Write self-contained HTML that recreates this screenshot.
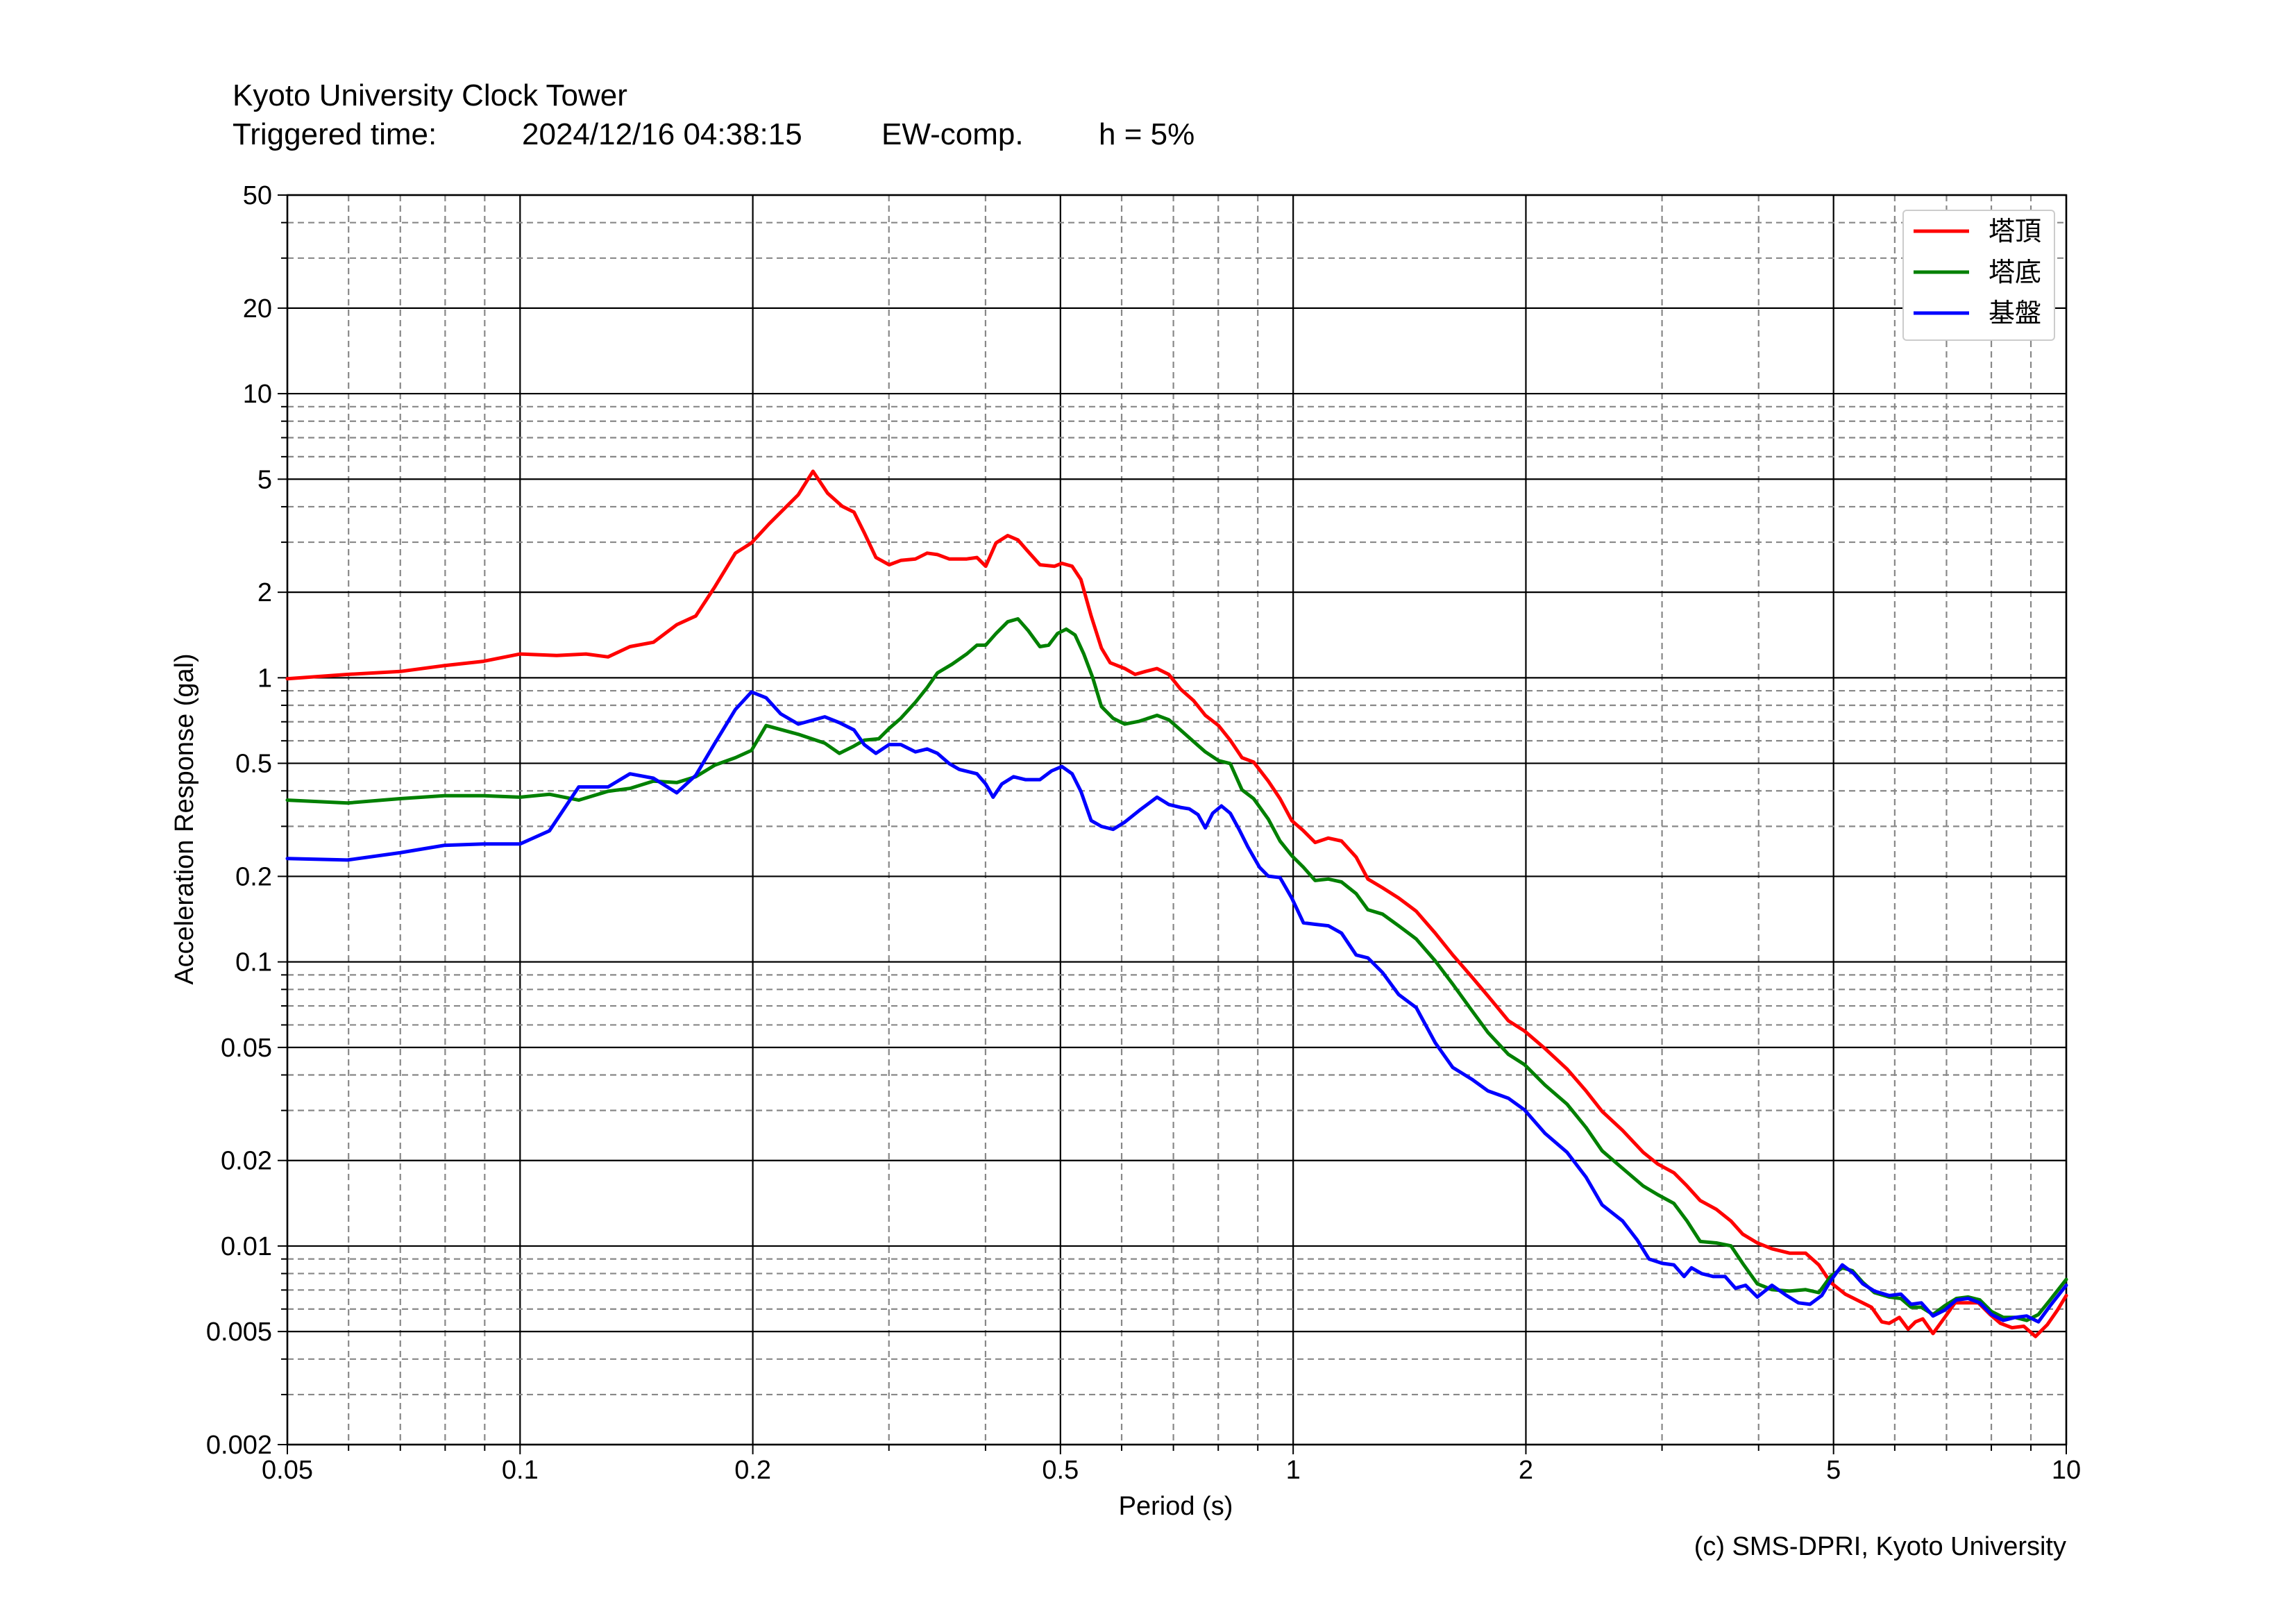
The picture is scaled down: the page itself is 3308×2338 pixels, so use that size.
<!DOCTYPE html>
<html><head><meta charset="utf-8"><style>
html,body{margin:0;padding:0;background:#fff}
svg{display:block}
text{font-family:"Liberation Sans","Noto Sans CJK JP",sans-serif;fill:#000}
</style></head><body>
<svg id="s" xmlns="http://www.w3.org/2000/svg" width="3308" height="2338" viewBox="0 0 3308 2338">
<rect width="3308" height="2338" fill="#fff"/>
<text x="335" y="152" font-size="44">Kyoto University Clock Tower</text>
<text x="335" y="208" font-size="44">Triggered time:</text>
<text x="752" y="208" font-size="44">2024/12/16 04:38:15</text>
<text x="1270" y="208" font-size="44">EW-comp.</text>
<text x="1583" y="208" font-size="44">h = 5%</text>
<g id="grid"></g>
<g id="labels" font-size="36"></g>
<text x="1694" y="2182" font-size="38" text-anchor="middle">Period (s)</text>
<text transform="translate(278,1180) rotate(-90)" font-size="38" text-anchor="middle">Acceleration Response (gal)</text>
<text x="2977" y="2240" font-size="38" text-anchor="end">(c) SMS-DPRI, Kyoto University</text>
<g id="series"></g>
<g id="legend" transform="translate(-13,0)">
<rect x="2755" y="303" width="218" height="187" fill="#fff" stroke="#ccc" stroke-width="2" rx="5"/>
<line x1="2770" y1="333" x2="2850" y2="333" stroke="#f00" stroke-width="5"/>
<line x1="2770" y1="392" x2="2850" y2="392" stroke="#008000" stroke-width="5"/>
<line x1="2770" y1="451" x2="2850" y2="451" stroke="#00f" stroke-width="5"/>
<text x="2878" y="346" font-size="38">塔頂</text>
<text x="2878" y="405" font-size="38">塔底</text>
<text x="2878" y="464" font-size="38">基盤</text>
</g>
</svg>
<script>
var L=414,R=2977,T=281,B=2081;
var x0=Math.log10(0.05),x1=1,y0=Math.log10(0.002),y1=Math.log10(50);
function X(v){return L+(Math.log10(v)-x0)/(x1-x0)*(R-L);}
function Y(v){return B-(Math.log10(v)-y0)/(y1-y0)*(B-T);}
var ns="http://www.w3.org/2000/svg";
function el(p,t,a,txt){var e=document.createElementNS(ns,t);for(var k in a)e.setAttribute(k,a[k]);if(txt)e.textContent=txt;p.appendChild(e);return e;}
var g=document.getElementById('grid'),lb=document.getElementById('labels');
var xs=[];for(var d=-2;d<=1;d++)for(var m=1;m<10;m++){var v=m*Math.pow(10,d);if(v>=0.05-1e-9&&v<=10+1e-9)xs.push([v,m]);}
xs.forEach(function(a){var x=X(a[0]);var major=(a[1]==1||a[1]==2||a[1]==5);
 if(major)el(g,'line',{x1:x,y1:T,x2:x,y2:B,stroke:'#000','stroke-width':2.2});
 else el(g,'line',{x1:x,y1:T,x2:x,y2:B,stroke:'#888','stroke-width':2.2,'stroke-dasharray':'9,6'});
 el(g,'line',{x1:x,y1:B,x2:x,y2:B+(major?14:9),stroke:'#000','stroke-width':2});});
var ys=[];for(var d=-3;d<=1;d++)for(var m=1;m<10;m++){var v=m*Math.pow(10,d);if(v>=0.002-1e-12&&v<=50+1e-9)ys.push([v,m]);}
ys.forEach(function(a){var y=Y(a[0]);var major=(a[1]==1||a[1]==2||a[1]==5);
 if(major)el(g,'line',{x1:L,y1:y,x2:R,y2:y,stroke:'#000','stroke-width':2.2});
 else el(g,'line',{x1:L,y1:y,x2:R,y2:y,stroke:'#888','stroke-width':2.2,'stroke-dasharray':'9,6'});
 el(g,'line',{x1:L-(major?14:9),y1:y,x2:L,y2:y,stroke:'#000','stroke-width':2});});
el(g,'rect',{x:L,y:T,width:R-L,height:B-T,fill:'none',stroke:'#000','stroke-width':2.5});
['0.05','0.1','0.2','0.5','1','2','5','10'].forEach(function(s){el(lb,'text',{x:X(+s),y:B+49,'text-anchor':'middle','font-size':38},s);});
['0.002','0.005','0.01','0.02','0.05','0.1','0.2','0.5','1','2','5','10','20','50'].forEach(function(s){el(lb,'text',{x:L-22,y:Y(+s)+13,'text-anchor':'end','font-size':38},s);});
function tr(p){return p.map(function(q){return [L+(q[0]-196)*(R-L)/1215, T+(q[1]-132)*(B-T)/855];});}
var red=[[196,463],[237,460],[273,458],[303,454],[330,451],[355,446],[380,447],[400,446],[415,448],[430,441],[446,438],[462,426],[475,420],[488,400],[502,377],[513,370],[525,357],[545,337],[555,321],[565,336],[575,345],[583,349],[590,363],[598,380],[607,385],[615,382],[625,381],[633,377],[640,378],[648,381],[660,381],[667,380],[673,386],[680,370],[688,365],[695,368],[702,376],[710,385],[720,386],[725,384],[732,386],[738,395],[745,420],[752,442],[758,452],[768,456],[775,460],[782,458],[790,456],[798,460],[806,470],[815,478],[823,488],[832,495],[840,505],[848,517],[856,520],[866,533],[874,545],[882,560],[890,567],[898,575],[907,572],[916,574],[926,585],[934,600],[944,606],[955,613],[967,622],[980,637],[992,652],[1005,667],[1016,680],[1030,697],[1041,704],[1055,716],[1070,730],[1083,745],[1094,759],[1108,772],[1122,787],[1132,795],[1143,801],[1152,810],[1161,820],[1172,826],[1182,834],[1190,843],[1200,849],[1210,853],[1222,856],[1233,856],[1242,864],[1250,876],[1260,884],[1270,889],[1278,893],[1285,903],[1290,904],[1297,900],[1303,908],[1308,903],[1313,901],[1320,911],[1328,900],[1335,890],[1343,890],[1351,890],[1359,898],[1366,904],[1374,907],[1382,906],[1390,913],[1398,905],[1405,895],[1411,885]];
var green=[[196,546],[237,548],[273,545],[303,543],[330,543],[355,544],[375,542],[395,546],[415,540],[430,538],[446,533],[462,534],[475,530],[488,522],[502,517],[513,512],[523,495],[545,501],[563,507],[573,514],[583,509],[590,505],[600,504],[607,497],[615,490],[625,479],[633,469],[640,459],[650,453],[660,446],[667,440],[673,440],[680,432],[688,424],[695,422],[702,430],[710,441],[716,440],[722,432],[728,429],[734,433],[740,446],[746,462],[752,482],[760,490],[768,494],[778,492],[790,488],[798,491],[806,498],[815,506],[823,513],[832,519],[840,521],[848,539],[856,545],[866,559],[874,574],[882,584],[890,592],[898,601],[907,600],[916,602],[926,610],[934,621],[944,624],[955,632],[967,641],[980,656],[992,672],[1005,690],[1016,705],[1030,720],[1041,727],[1055,741],[1070,754],[1083,770],[1094,786],[1108,798],[1122,810],[1132,816],[1143,822],[1152,834],[1161,848],[1172,849],[1182,851],[1190,863],[1200,877],[1210,881],[1222,882],[1233,881],[1242,883],[1250,872],[1258,866],[1265,868],[1272,876],[1280,883],[1290,886],[1298,887],[1305,893],[1312,893],[1320,898],[1328,892],[1336,887],[1344,886],[1352,888],[1360,896],[1368,900],[1376,900],[1384,902],[1392,898],[1400,888],[1411,874]];
var blue=[[196,586],[237,587],[273,582],[303,577],[330,576],[355,576],[375,567],[395,537],[415,537],[430,528],[446,531],[462,541],[475,529],[488,507],[502,484],[513,472],[523,476],[533,487],[545,494],[563,489],[573,493],[583,498],[590,508],[598,514],[607,508],[615,508],[625,513],[633,511],[640,514],[648,521],[655,525],[667,528],[673,535],[678,544],[684,535],[692,530],[700,532],[710,532],[718,526],[725,523],[732,528],[738,540],[745,560],[752,564],[760,566],[768,561],[778,553],[790,544],[798,549],[806,551],[812,552],[818,556],[823,565],[828,555],[834,550],[840,555],[846,566],[852,578],[860,592],[866,598],[874,599],[882,613],[890,630],[898,631],[907,632],[916,637],[926,652],[934,654],[944,664],[955,679],[967,688],[980,712],[992,729],[1005,737],[1016,745],[1030,750],[1041,758],[1055,774],[1070,787],[1083,804],[1094,823],[1108,834],[1118,847],[1126,860],[1135,863],[1143,864],[1150,872],[1155,866],[1162,870],[1170,872],[1178,872],[1185,880],[1192,878],[1200,886],[1210,878],[1220,885],[1228,890],[1236,891],[1244,885],[1250,875],[1258,864],[1266,870],[1272,877],[1280,882],[1290,885],[1298,884],[1305,891],[1312,890],[1320,899],[1328,895],[1336,888],[1344,887],[1352,890],[1360,898],[1368,902],[1376,900],[1384,899],[1392,903],[1400,892],[1411,878]];
var sg=document.getElementById('series');
[[red,'#f00'],[green,'#008000'],[blue,'#00f']].forEach(function(s){
 var pts=tr(s[0]).map(function(p){return p[0].toFixed(1)+','+p[1].toFixed(1);}).join(' ');
 el(sg,'polyline',{points:pts,fill:'none',stroke:s[1],'stroke-width':5,'stroke-linejoin':'round','stroke-linecap':'round'});});
</script>
</body></html>
